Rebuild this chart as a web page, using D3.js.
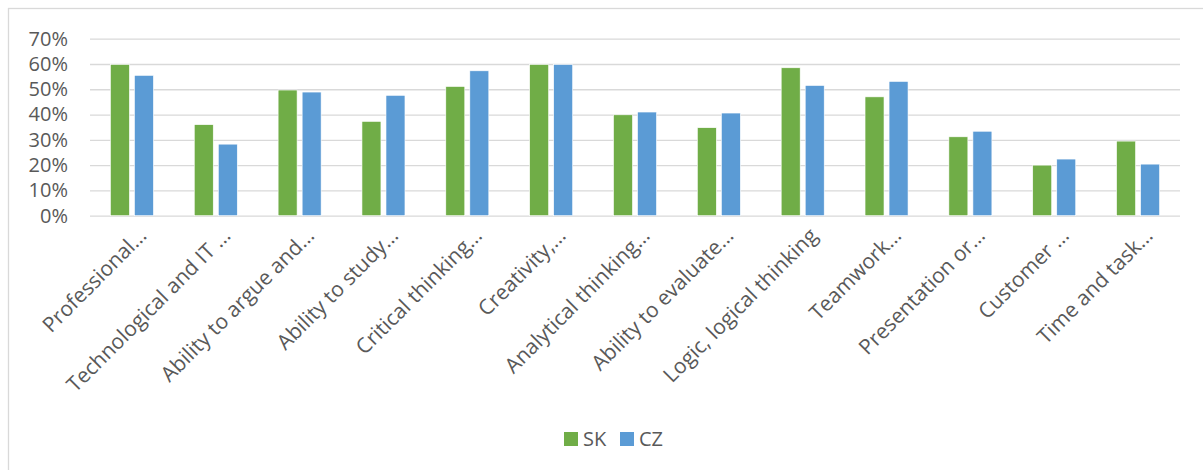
<!DOCTYPE html>
<html>
<head>
<meta charset="utf-8">
<script src="https://cdn.jsdelivr.net/npm/d3@7"></script>
<style>
  body { margin: 0; background: #fff; }
  svg { display: block; }
</style>
</head>
<body>
<div id="chart"></div>
<script>
// Skills categories (labels as truncated in the original chart)
const categories = [
  "Professional…",
  "Technological and IT …",
  "Ability to argue and…",
  "Ability to study…",
  "Critical thinking…",
  "Creativity,…",
  "Analytical thinking…",
  "Ability to evaluate…",
  "Logic, logical thinking",
  "Teamwork…",
  "Presentation or…",
  "Customer …",
  "Time and task…"
];

const seriesNames = ["SK", "CZ"];
const seriesColors = ["#70AD47", "#5B9BD5"];

const skValues = [0.598, 0.360, 0.497, 0.373, 0.511, 0.598, 0.399, 0.348, 0.585, 0.470, 0.312, 0.200, 0.295];
const czValues = [0.555, 0.283, 0.489, 0.476, 0.573, 0.598, 0.410, 0.406, 0.515, 0.531, 0.334, 0.224, 0.204];

const yTicks = [0, 0.1, 0.2, 0.3, 0.4, 0.5, 0.6, 0.7];

const width = 1203;
const height = 470;
const margin = { top: 38.7, right: 23, bottom: 254.3, left: 90 };
const textColor = "#595959";
const gridColor = "#d9d9d9";
const fontFamily = "'Open Sans', sans-serif";

const svg = d3.select("#chart")
  .append("svg")
  .attr("width", width)
  .attr("height", height);

// Chart area border (extends past the right and bottom edges)
svg.append("rect")
  .attr("x", 8.5)
  .attr("y", 8.5)
  .attr("width", width + 20)
  .attr("height", height + 20)
  .attr("fill", "none")
  .attr("stroke", gridColor)
  .attr("stroke-width", 1.3);

// Scales
const x0 = d3.scaleBand()
  .domain(categories)
  .range([margin.left, width - margin.right])
  .paddingInner(0.487)
  .paddingOuter(0.2435);

const x1 = d3.scaleBand()
  .domain(seriesNames)
  .range([0, x0.bandwidth()])
  .paddingInner(0.21);

const y = d3.scaleLinear()
  .domain([0, 0.7])
  .range([height - margin.bottom, margin.top]);

// Gridlines + y labels
const yAxis = svg.append("g")
  .attr("transform", `translate(${margin.left},0)`)
  .call(d3.axisLeft(y)
    .tickValues(yTicks)
    .tickFormat(d3.format(".0%"))
    .tickSize(-(width - margin.left - margin.right))
    .tickPadding(22));

yAxis.select(".domain").remove();
yAxis.selectAll(".tick line")
  .attr("stroke", gridColor)
  .attr("stroke-width", 1.3);
yAxis.selectAll(".tick text")
  .attr("fill", textColor)
  .style("font-family", fontFamily)
  .style("font-size", "20px");

// Bars
const rows = categories.map((c, i) => ({ cat: c, values: [skValues[i], czValues[i]] }));

const groups = svg.selectAll("g.cat")
  .data(rows)
  .enter()
  .append("g")
  .attr("class", "cat")
  .attr("transform", d => `translate(${x0(d.cat)},0)`);

groups.selectAll("rect")
  .data(d => d.values.map((v, i) => ({ key: seriesNames[i], value: v, color: seriesColors[i] })))
  .enter()
  .append("rect")
  .attr("x", d => x1(d.key))
  .attr("y", d => y(d.value))
  .attr("width", x1.bandwidth())
  .attr("height", d => y(0) - y(d.value))
  .attr("fill", d => d.color)
  .attr("stroke", "#fff")
  .attr("stroke-width", 0.6);

// Category labels, rotated 45 degrees
svg.append("g")
  .selectAll("text")
  .data(categories)
  .enter()
  .append("text")
  .attr("transform", d => `translate(${x0(d) + x0.bandwidth() / 2 + 16},237) rotate(-45)`)
  .attr("text-anchor", "end")
  .attr("fill", textColor)
  .style("font-family", fontFamily)
  .style("font-size", "21px")
  .text(d => d);

// Legend
const legendX = [564, 620];
const legend = svg.append("g")
  .selectAll("g")
  .data(seriesNames)
  .enter()
  .append("g")
  .attr("transform", (d, i) => `translate(${legendX[i]},432)`);

legend.append("rect")
  .attr("width", 14)
  .attr("height", 14)
  .attr("fill", (d, i) => seriesColors[i]);

legend.append("text")
  .attr("x", 19)
  .attr("y", 14)
  .attr("fill", textColor)
  .style("font-family", fontFamily)
  .style("font-size", "20px")
  .text(d => d);
</script>
</body>
</html>
